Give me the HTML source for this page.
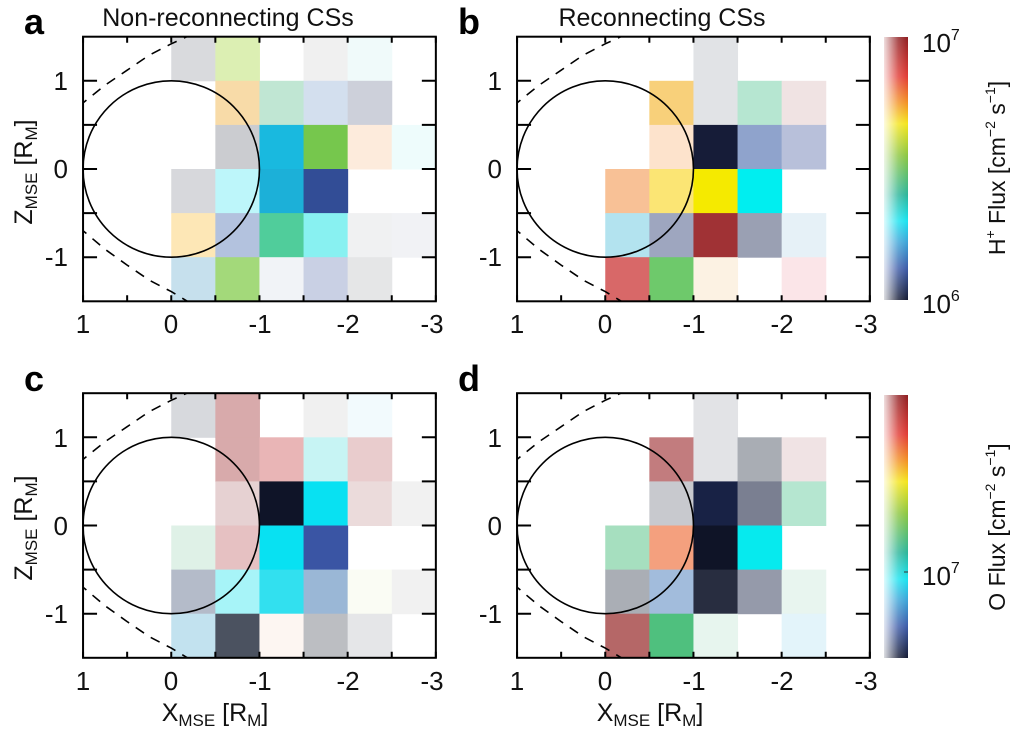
<!DOCTYPE html>
<html><head><meta charset="utf-8"><style>
html,body{margin:0;padding:0;background:#fff;}
svg{display:block;font-family:"Liberation Sans",sans-serif;}
</style></head><body>
<svg width="1024" height="731" viewBox="0 0 1024 731" xmlns="http://www.w3.org/2000/svg" xmlns:xlink="http://www.w3.org/1999/xlink">
<defs>
<linearGradient id="cb" x1="0" y1="0" x2="0" y2="1">
<stop offset="0" stop-color="#8e1d20"/>
<stop offset="0.15" stop-color="#e23a34"/>
<stop offset="0.25" stop-color="#f39122"/>
<stop offset="0.33" stop-color="#f4e51a"/>
<stop offset="0.45" stop-color="#8cc63f"/>
<stop offset="0.6" stop-color="#2bb59a"/>
<stop offset="0.7" stop-color="#18e3f0"/>
<stop offset="0.78" stop-color="#3aa4d8"/>
<stop offset="0.88" stop-color="#3c5aa8"/>
<stop offset="1" stop-color="#141a33"/>
</linearGradient>
<linearGradient id="wf" x1="0" y1="0" x2="1" y2="0">
<stop offset="0" stop-color="#fff" stop-opacity="0.85"/>
<stop offset="0.6" stop-color="#fff" stop-opacity="0.2"/>
<stop offset="1" stop-color="#fff" stop-opacity="0"/>
</linearGradient>
<clipPath id="cp" clipPathUnits="userSpaceOnUse"><rect x="-88.2" y="0" width="352.8" height="264.6"/></clipPath>
<g id="frame">
<g clip-path="url(#cp)" fill="none" stroke="#000" stroke-width="1.6" stroke-dasharray="10,8">
<polyline points="-92.6,69.7 -88.2,66.15 -66.2,48.5 -44.1,33.5 -22.1,18.5 0,7.1 17.6,-0.9"/>
<polyline points="-92.6,190.5 -88.2,194 -66.2,212.6 -44.1,228.4 -22.1,243.4 0,254.9 17.6,265.5"/>
</g>
<circle cx="0" cy="132.3" r="88.2" fill="none" stroke="#000" stroke-width="1.6"/>
<g stroke="#000" stroke-width="2">
<path d="M-88.2,0v6M-44.1,0v6M0,0v6M44.1,0v6M88.2,0v6M132.3,0v6M176.4,0v6M220.5,0v6M264.6,0v6
M-88.2,264.6v-6M-44.1,264.6v-6M0,264.6v-6M44.1,264.6v-6M88.2,264.6v-6M132.3,264.6v-6M176.4,264.6v-6M220.5,264.6v-6M264.6,264.6v-6
M-88.2,44.1h14M-88.2,88.2h14M-88.2,132.3h14M-88.2,176.4h14M-88.2,220.5h14
M264.6,44.1h-14M264.6,88.2h-14M264.6,132.3h-14M264.6,176.4h-14M264.6,220.5h-14"/>
</g>
<rect x="-88.2" y="0" width="352.8" height="264.6" fill="none" stroke="#000" stroke-width="2"/>
</g>
</defs>

<!-- panel a -->
<g transform="translate(171.25,36.7)">
<g>
<rect x="0" y="0" width="44.6" height="44.6" fill="#d9dadd"/>
<rect x="44.1" y="0" width="44.6" height="44.6" fill="#dcefb3"/>
<rect x="132.3" y="0" width="44.6" height="44.6" fill="#f0f0f0"/>
<rect x="176.4" y="0" width="44.6" height="44.6" fill="#f0fafa"/>
<rect x="44.1" y="44.1" width="44.6" height="44.6" fill="#f8dba8"/>
<rect x="88.2" y="44.1" width="44.6" height="44.6" fill="#c0e6d3"/>
<rect x="132.3" y="44.1" width="44.6" height="44.6" fill="#d3dfee"/>
<rect x="176.4" y="44.1" width="44.6" height="44.6" fill="#cdd0da"/>
<rect x="44.1" y="88.2" width="44.6" height="44.6" fill="#cbccd0"/>
<rect x="88.2" y="88.2" width="44.6" height="44.6" fill="#19b9df"/>
<rect x="132.3" y="88.2" width="44.6" height="44.6" fill="#76c74d"/>
<rect x="176.4" y="88.2" width="44.6" height="44.6" fill="#fdebdc"/>
<rect x="220.5" y="88.2" width="44.1" height="44.6" fill="#eefcfc"/>
<rect x="0" y="132.3" width="44.6" height="44.6" fill="#d7d8dc"/>
<rect x="44.1" y="132.3" width="44.6" height="44.6" fill="#bdf6fa"/>
<rect x="88.2" y="132.3" width="44.6" height="44.6" fill="#1cb0d8"/>
<rect x="132.3" y="132.3" width="44.6" height="44.6" fill="#324d96"/>
<rect x="0" y="176.4" width="44.6" height="44.6" fill="#fde7b6"/>
<rect x="44.1" y="176.4" width="44.6" height="44.6" fill="#b3c2de"/>
<rect x="88.2" y="176.4" width="44.6" height="44.6" fill="#50cd9b"/>
<rect x="132.3" y="176.4" width="44.6" height="44.6" fill="#88f1f1"/>
<rect x="176.4" y="176.4" width="44.6" height="44.6" fill="#f0f1f2"/>
<rect x="220.5" y="176.4" width="44.1" height="44.6" fill="#f1f2f5"/>
<rect x="0" y="220.5" width="44.6" height="44.1" fill="#c6e0ed"/>
<rect x="44.1" y="220.5" width="44.6" height="44.1" fill="#a3d97a"/>
<rect x="88.2" y="220.5" width="44.6" height="44.1" fill="#f1f3f7"/>
<rect x="132.3" y="220.5" width="44.6" height="44.1" fill="#c9d0e4"/>
<rect x="176.4" y="220.5" width="44.6" height="44.1" fill="#e5e6e7"/>
</g>
<use xlink:href="#frame" href="#frame"/>
</g>

<!-- panel b -->
<g transform="translate(605.25,36.7)">
<g>
<rect x="88.2" y="0" width="44.6" height="44.6" fill="#e1e3e6"/>
<rect x="44.1" y="44.1" width="44.6" height="44.6" fill="#f8d07a"/>
<rect x="88.2" y="44.1" width="44.6" height="44.6" fill="#e1e3e6"/>
<rect x="132.3" y="44.1" width="44.6" height="44.6" fill="#b6e6d1"/>
<rect x="176.4" y="44.1" width="44.6" height="44.6" fill="#f0e3e3"/>
<rect x="44.1" y="88.2" width="44.6" height="44.6" fill="#fde3cc"/>
<rect x="88.2" y="88.2" width="44.6" height="44.6" fill="#161c38"/>
<rect x="132.3" y="88.2" width="44.6" height="44.6" fill="#8fa3cc"/>
<rect x="176.4" y="88.2" width="44.6" height="44.6" fill="#b8c0da"/>
<rect x="0" y="132.3" width="44.6" height="44.6" fill="#f8c196"/>
<rect x="44.1" y="132.3" width="44.6" height="44.6" fill="#fbe574"/>
<rect x="88.2" y="132.3" width="44.6" height="44.6" fill="#f5ea00"/>
<rect x="132.3" y="132.3" width="44.6" height="44.6" fill="#00eef0"/>
<rect x="0" y="176.4" width="44.6" height="44.6" fill="#b3e3ef"/>
<rect x="44.1" y="176.4" width="44.6" height="44.6" fill="#9ea6bf"/>
<rect x="88.2" y="176.4" width="44.6" height="44.6" fill="#a03235"/>
<rect x="132.3" y="176.4" width="44.6" height="44.6" fill="#9aa0b3"/>
<rect x="176.4" y="176.4" width="44.6" height="44.6" fill="#e6f1f7"/>
<rect x="0" y="220.5" width="44.6" height="44.1" fill="#d86868"/>
<rect x="44.1" y="220.5" width="44.6" height="44.1" fill="#6ec96b"/>
<rect x="88.2" y="220.5" width="44.6" height="44.1" fill="#fcf2e3"/>
<rect x="176.4" y="220.5" width="44.6" height="44.1" fill="#fbe5e8"/>
</g>
<use xlink:href="#frame" href="#frame"/>
</g>

<!-- panel c -->
<g transform="translate(171.25,393.2)">
<g>
<rect x="0" y="0" width="44.6" height="44.6" fill="#d7d9dd"/>
<rect x="44.1" y="0" width="44.6" height="44.6" fill="#d8aaab"/>
<rect x="132.3" y="0" width="44.6" height="44.6" fill="#f0f0f0"/>
<rect x="176.4" y="0" width="44.6" height="44.6" fill="#f2fafd"/>
<rect x="44.1" y="44.1" width="44.6" height="44.6" fill="#d8aaab"/>
<rect x="88.2" y="44.1" width="44.6" height="44.6" fill="#e9b5b6"/>
<rect x="132.3" y="44.1" width="44.6" height="44.6" fill="#c7f4f4"/>
<rect x="176.4" y="44.1" width="44.6" height="44.6" fill="#e9cccd"/>
<rect x="44.1" y="88.2" width="44.6" height="44.6" fill="#e6d1d2"/>
<rect x="88.2" y="88.2" width="44.6" height="44.6" fill="#0f1428"/>
<rect x="132.3" y="88.2" width="44.6" height="44.6" fill="#08e1f2"/>
<rect x="176.4" y="88.2" width="44.6" height="44.6" fill="#ebdbdb"/>
<rect x="220.5" y="88.2" width="44.1" height="44.6" fill="#f1f1f1"/>
<rect x="0" y="132.3" width="44.6" height="44.6" fill="#dff1e7"/>
<rect x="44.1" y="132.3" width="44.6" height="44.6" fill="#e6c1c2"/>
<rect x="88.2" y="132.3" width="44.6" height="44.6" fill="#08e1f2"/>
<rect x="132.3" y="132.3" width="44.6" height="44.6" fill="#3a55a4"/>
<rect x="0" y="176.4" width="44.6" height="44.6" fill="#b4bbc9"/>
<rect x="44.1" y="176.4" width="44.6" height="44.6" fill="#a7f4f8"/>
<rect x="88.2" y="176.4" width="44.6" height="44.6" fill="#32e0ef"/>
<rect x="132.3" y="176.4" width="44.6" height="44.6" fill="#9ab7d6"/>
<rect x="176.4" y="176.4" width="44.6" height="44.6" fill="#fafcf4"/>
<rect x="220.5" y="176.4" width="44.1" height="44.6" fill="#f1f1f1"/>
<rect x="0" y="220.5" width="44.6" height="44.1" fill="#c2e2ef"/>
<rect x="44.1" y="220.5" width="44.6" height="44.1" fill="#4b5260"/>
<rect x="88.2" y="220.5" width="44.6" height="44.1" fill="#fdf6f2"/>
<rect x="132.3" y="220.5" width="44.6" height="44.1" fill="#bcbec2"/>
<rect x="176.4" y="220.5" width="44.6" height="44.1" fill="#e5e6e8"/>
</g>
<use xlink:href="#frame" href="#frame"/>
</g>

<!-- panel d -->
<g transform="translate(605.25,393.2)">
<g>
<rect x="88.2" y="0" width="44.6" height="44.6" fill="#e2e3e6"/>
<rect x="44.1" y="44.1" width="44.6" height="44.6" fill="#c27c7e"/>
<rect x="88.2" y="44.1" width="44.6" height="44.6" fill="#e2e3e6"/>
<rect x="132.3" y="44.1" width="44.6" height="44.6" fill="#a9adb4"/>
<rect x="176.4" y="44.1" width="44.6" height="44.6" fill="#f0e3e4"/>
<rect x="44.1" y="88.2" width="44.6" height="44.6" fill="#c8c9ce"/>
<rect x="88.2" y="88.2" width="44.6" height="44.6" fill="#182245"/>
<rect x="132.3" y="88.2" width="44.6" height="44.6" fill="#7a7f91"/>
<rect x="176.4" y="88.2" width="44.6" height="44.6" fill="#b5e6d0"/>
<rect x="0" y="132.3" width="44.6" height="44.6" fill="#a6dfbf"/>
<rect x="44.1" y="132.3" width="44.6" height="44.6" fill="#f4a07e"/>
<rect x="88.2" y="132.3" width="44.6" height="44.6" fill="#0f1427"/>
<rect x="132.3" y="132.3" width="44.6" height="44.6" fill="#06eaee"/>
<rect x="0" y="176.4" width="44.6" height="44.6" fill="#aaaeb5"/>
<rect x="44.1" y="176.4" width="44.6" height="44.6" fill="#a2bcdc"/>
<rect x="88.2" y="176.4" width="44.6" height="44.6" fill="#282d40"/>
<rect x="132.3" y="176.4" width="44.6" height="44.6" fill="#959aaa"/>
<rect x="176.4" y="176.4" width="44.6" height="44.6" fill="#e8f5ef"/>
<rect x="0" y="220.5" width="44.6" height="44.1" fill="#b56767"/>
<rect x="44.1" y="220.5" width="44.6" height="44.1" fill="#4fc07e"/>
<rect x="88.2" y="220.5" width="44.6" height="44.1" fill="#e7f5ee"/>
<rect x="176.4" y="220.5" width="44.6" height="44.1" fill="#e3f4fa"/>
</g>
<use xlink:href="#frame" href="#frame"/>
</g>

<!-- colorbars -->
<rect x="884" y="37" width="24" height="263" fill="url(#cb)"/>
<rect x="884" y="37" width="24" height="263" fill="url(#wf)"/>
<rect x="884" y="395" width="24" height="263" fill="url(#cb)"/>
<rect x="884" y="395" width="24" height="263" fill="url(#wf)"/>
<g font-size="26" fill="#111">
<text x="922" y="52">10<tspan font-size="16" dy="-12">7</tspan></text>
<text x="922" y="313">10<tspan font-size="16" dy="-12">6</tspan></text>
<text x="922" y="585">10<tspan font-size="16" dy="-12">7</tspan></text>
</g>
<line x1="904" y1="572" x2="908" y2="572" stroke="#333"/>
<g font-size="23" fill="#111">
<text transform="translate(1005,168) rotate(-90)" text-anchor="middle">H<tspan font-size="14" dy="-10">+</tspan><tspan dy="10"> Flux [cm</tspan><tspan font-size="14" dy="-10">−2</tspan><tspan dy="10"> s</tspan><tspan font-size="14" dy="-10">−1</tspan><tspan dy="10">]</tspan></text>
<text transform="translate(1005,527) rotate(-90)" text-anchor="middle">O Flux [cm<tspan font-size="14" dy="-10">−2</tspan><tspan dy="10"> s</tspan><tspan font-size="14" dy="-10">−1</tspan><tspan dy="10">]</tspan></text>
</g>
<!-- panel letters and titles -->
<g font-size="36" font-weight="bold" fill="#000">
<text x="24" y="34">a</text>
<text x="458" y="34">b</text>
<text x="24" y="391">c</text>
<text x="458" y="391">d</text>
</g>
<g font-size="25" fill="#111" text-anchor="middle">
<text x="228" y="26">Non-reconnecting CSs</text>
<text x="662" y="26">Reconnecting CSs</text>
<text x="215" y="721">X<tspan font-size="17" dy="5">MSE</tspan><tspan dy="-5"> [R</tspan><tspan font-size="17" dy="5">M</tspan><tspan dy="-5">]</tspan></text>
<text x="650" y="721">X<tspan font-size="17" dy="5">MSE</tspan><tspan dy="-5"> [R</tspan><tspan font-size="17" dy="5">M</tspan><tspan dy="-5">]</tspan></text>
<text transform="translate(32,172) rotate(-90)">Z<tspan font-size="17" dy="5">MSE</tspan><tspan dy="-5"> [R</tspan><tspan font-size="17" dy="5">M</tspan><tspan dy="-5">]</tspan></text>
<text transform="translate(32,528) rotate(-90)">Z<tspan font-size="17" dy="5">MSE</tspan><tspan dy="-5"> [R</tspan><tspan font-size="17" dy="5">M</tspan><tspan dy="-5">]</tspan></text>
</g>
<g font-size="26" fill="#111" text-anchor="middle">
<text x="83" y="333">1</text><text x="171" y="333">0</text><text x="260" y="333">-1</text><text x="348" y="333">-2</text><text x="432" y="333">-3</text>
<text x="517" y="333">1</text><text x="605" y="333">0</text><text x="694" y="333">-1</text><text x="782" y="333">-2</text><text x="866" y="333">-3</text>
<text x="83" y="690">1</text><text x="171" y="690">0</text><text x="260" y="690">-1</text><text x="348" y="690">-2</text><text x="432" y="690">-3</text>
<text x="517" y="690">1</text><text x="605" y="690">0</text><text x="694" y="690">-1</text><text x="782" y="690">-2</text><text x="866" y="690">-3</text>
</g>
<g font-size="26" fill="#111" text-anchor="end">
<text x="68" y="90">1</text><text x="68" y="178">0</text><text x="68" y="266">-1</text>
<text x="502" y="90">1</text><text x="502" y="178">0</text><text x="502" y="266">-1</text>
<text x="68" y="447">1</text><text x="68" y="535">0</text><text x="68" y="623">-1</text>
<text x="502" y="447">1</text><text x="502" y="535">0</text><text x="502" y="623">-1</text>
</g>
</svg>
</body></html>
